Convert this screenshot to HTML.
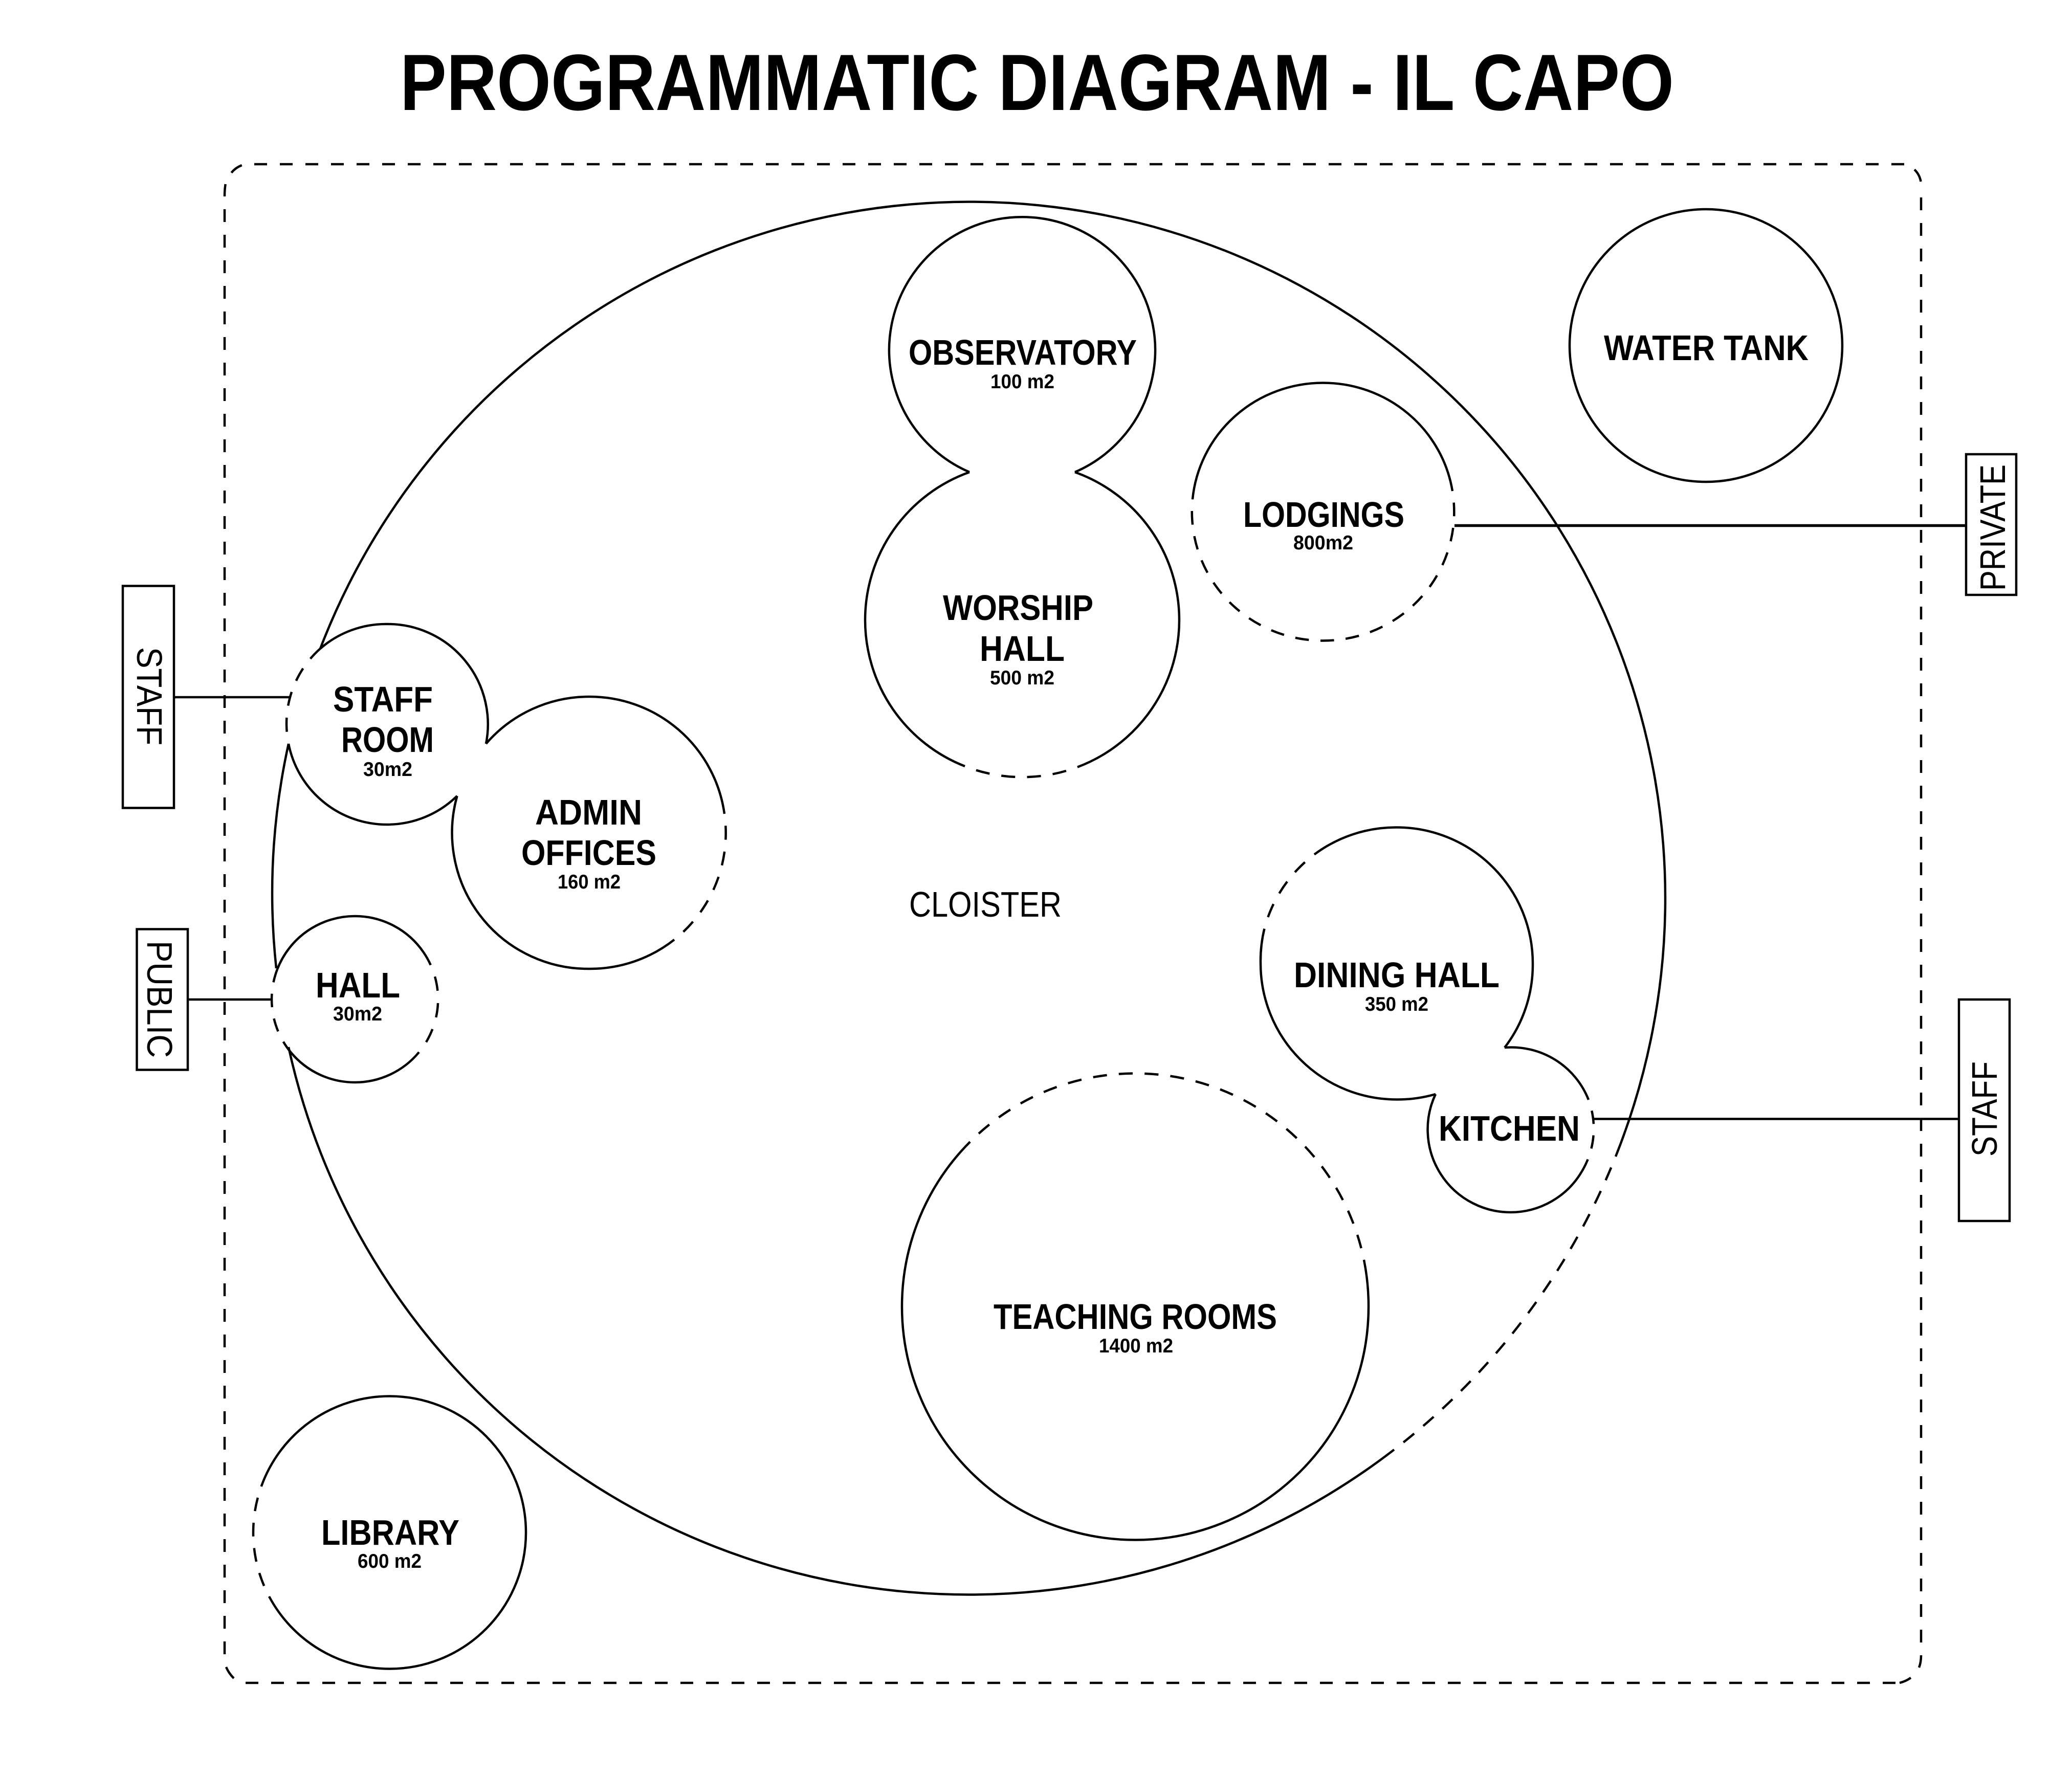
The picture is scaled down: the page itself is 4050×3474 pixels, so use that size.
<!DOCTYPE html>
<html>
<head>
<meta charset="utf-8">
<style>
html,body{margin:0;padding:0;background:#fff;}
svg{display:block;}
text{font-family:"Liberation Sans",sans-serif;fill:#000;}
.b{font-weight:700;font-size:70px;}
.s{font-weight:700;font-size:39px;}
.r{font-weight:400;font-size:70px;}
.t{font-weight:700;font-size:156px;}
.l{fill:none;stroke:#000;stroke-width:4.5;}
.d{fill:none;stroke:#000;stroke-width:4.5;stroke-dasharray:27 23;}
.o{fill:none;stroke:#000;stroke-width:4.5;stroke-dasharray:25 25;}
</style>
</head>
<body>
<svg xmlns="http://www.w3.org/2000/svg" width="4050" height="3474" viewBox="0 0 4050 3474">
<rect width="4050" height="3474" fill="#fff"/>

<text class="t" x="782" y="215" textLength="2490" lengthAdjust="spacingAndGlyphs">PROGRAMMATIC DIAGRAM - IL CAPO</text>

<!-- outer dashed boundary -->
<path class="o" d="M497 321H3722"/>
<path class="o" d="M439 409V3234"/>
<path class="o" d="M3755 386V3211"/>
<path class="o" d="M480 3290H3705"/>
<path class="l" d="M472.7 323Q460 328 452.3 337.7"/>
<path class="l" d="M440.7 360Q439 370 439 384"/>
<path class="l" d="M3742 331.5Q3752 341 3754.5 355"/>
<path class="l" d="M3755 3236Q3755 3250 3751 3260"/>
<path class="l" d="M3735 3280Q3725 3287 3713 3290"/>
<path class="l" d="M442 3259Q447 3271 457 3281"/>

<!-- main cloister circle -->
<path class="l" d="M626 1268A1361.5 1361.5 0 0 1 1893.5 394.5A1361.5 1361.5 0 0 1 3255 1756A1361.5 1361.5 0 0 1 3158 2261"/>
<path class="d" pathLength="723" stroke-dashoffset="27" d="M3158 2261A1361.5 1361.5 0 0 1 2725 2834"/>
<path class="l" d="M2725 2834A1361.5 1361.5 0 0 1 1893.5 3117.500A1361.5 1361.5 0 0 1 564 2047"/>
<path class="l" d="M540 1893A1361.5 1361.5 0 0 1 564 1454"/>

<!-- staff room -->
<path class="l" d="M626 1268A196 196 0 0 1 757 1220A196 196 0 0 1 950 1454"/>
<path class="l" d="M893.5 1556A196 196 0 0 1 757 1612A196 196 0 0 1 564 1454"/>
<path class="d" pathLength="200" stroke-dashoffset="27" d="M564 1454A196 196 0 0 1 626 1268"/>

<!-- admin offices -->
<path class="l" d="M950 1454A266 266 0 0 1 1151 1362A266 266 0 0 1 1416 1591"/>
<path class="d" pathLength="273" stroke-dashoffset="27" d="M1416 1591A266 266 0 0 1 1318 1837"/>
<path class="l" d="M1318 1837A266 266 0 0 1 1151 1894A266 266 0 0 1 893.5 1556"/>

<!-- hall -->
<path class="l" d="M542 1895A162.5 162.5 0 0 1 693.500 1791A162.5 162.5 0 0 1 828 1862"/>
<path class="d" pathLength="200" d="M828 1862A162.5 162.5 0 0 1 819 2057"/>
<path class="l" d="M819 2057A162.5 162.5 0 0 1 693.500 2116A162.5 162.5 0 0 1 569 2058"/>
<path class="d" pathLength="177" d="M569 2058A162.5 162.5 0 0 1 542 1895"/>

<!-- observatory + worship -->
<path class="l" d="M1895 923A260 260 0 1 1 2101 923"/>
<path class="l" d="M2101 923A307 307 0 0 1 2305 1212A307 307 0 0 1 2131 1489"/>
<path class="d" pathLength="250" d="M2131 1489A307 307 0 0 1 1886 1498"/>
<path class="l" d="M1886 1498A307 307 0 0 1 1691 1212A307 307 0 0 1 1895 923"/>

<!-- lodgings -->
<path class="l" d="M2331 976A256 252 0 0 1 2586.5 748.500A256 252 0 0 1 2839 960"/>
<path class="d" pathLength="873" stroke-dashoffset="27" d="M2839 960A256 252 0 0 1 2586.5 1252.500A256 252 0 0 1 2331 976"/>

<!-- dining + kitchen -->
<path class="l" d="M2569 1670.5A266 266 0 0 1 2730 1617.500A266 266 0 0 1 2996 1883.500A266 266 0 0 1 2941 2048"/>
<path class="l" d="M2941 2048A162 162 0 0 1 3105 2150"/>
<path class="d" pathLength="150" stroke-dashoffset="27" d="M3105 2150A162 162 0 0 1 3092 2290"/>
<path class="l" d="M3092 2290A162 162 0 0 1 2952 2370A162 162 0 0 1 2806 2139"/>
<path class="l" d="M2806 2139A266 266 0 0 1 2730 2149.500A266 266 0 0 1 2464 1883.500A266 266 0 0 1 2471.4 1815.6"/>
<path class="d" pathLength="173" stroke-dashoffset="27" d="M2471.4 1815.6A266 266 0 0 1 2569 1670.5"/>

<!-- teaching rooms -->
<path class="d" pathLength="1000" d="M1877.5 2252A456 456 0 0 1 2219 2098.500A456 456 0 0 1 2666 2463"/>
<path class="l" d="M2666 2463A456 456 0 0 1 2675 2554.500A456 456 0 0 1 2219 3010.500A456 456 0 0 1 1763 2554.500A456 456 0 0 1 1877.5 2252"/>

<!-- library -->
<path class="l" d="M510.7 2906A266.5 266.5 0 0 1 761.5 2729.500A266.5 266.5 0 0 1 1028 2996A266.5 266.5 0 0 1 761.5 3262.500A266.5 266.5 0 0 1 526 3121"/>
<path class="d" pathLength="223" stroke-dashoffset="27" d="M526 3121A266.5 266.5 0 0 1 510.7 2906"/>

<!-- water tank -->
<circle class="l" cx="3334.5" cy="675.5" r="266.5"/>

<!-- side boxes and connectors -->
<rect class="l" x="240" y="1145.5" width="100" height="434"/>
<rect class="l" x="267.500" y="1816.500" width="99.500" height="275"/>
<rect class="l" x="3843" y="888" width="98" height="275"/>
<rect class="l" x="3829" y="1954" width="99" height="433"/>
<path class="l" d="M341 1363H566"/>
<path class="l" d="M368 1954H533"/>
<path class="l" d="M2843 1027.500H3841" style="stroke-width:5.500"/>
<path class="l" d="M3114 2187.500H3827"/>

<text class="r" transform="translate(268 1265) rotate(90)" textLength="192" lengthAdjust="spacingAndGlyphs">STAFF</text>
<text class="r" transform="translate(288 1839) rotate(90)" textLength="229" lengthAdjust="spacingAndGlyphs">PUBLIC</text>
<text class="r" transform="translate(3919 1155) rotate(-90)" textLength="247" lengthAdjust="spacingAndGlyphs">PRIVATE</text>
<text class="r" transform="translate(3903 2261) rotate(-90)" textLength="186" lengthAdjust="spacingAndGlyphs">STAFF</text>

<text class="r" x="1777" y="1792" textLength="298" lengthAdjust="spacingAndGlyphs">CLOISTER</text>

<!-- room labels -->
<text class="b" x="1776" y="713" textLength="446" lengthAdjust="spacingAndGlyphs">OBSERVATORY</text>
<text class="s" x="1936" y="759" textLength="125" lengthAdjust="spacingAndGlyphs">100 m2</text>
<text class="b" x="1843" y="1212" textLength="294" lengthAdjust="spacingAndGlyphs">WORSHIP</text>
<text class="b" x="1915" y="1292" textLength="166" lengthAdjust="spacingAndGlyphs">HALL</text>
<text class="s" x="1935" y="1338" textLength="126" lengthAdjust="spacingAndGlyphs">500 m2</text>
<text class="b" x="2430" y="1030" textLength="315" lengthAdjust="spacingAndGlyphs">LODGINGS</text>
<text class="s" x="2528" y="1074" textLength="117" lengthAdjust="spacingAndGlyphs">800m2</text>
<text class="b" x="651" y="1391" textLength="195" lengthAdjust="spacingAndGlyphs">STAFF</text>
<text class="b" x="667" y="1470" textLength="181" lengthAdjust="spacingAndGlyphs">ROOM</text>
<text class="s" x="710" y="1517" textLength="96" lengthAdjust="spacingAndGlyphs">30m2</text>
<text class="b" x="1046" y="1612" textLength="209" lengthAdjust="spacingAndGlyphs">ADMIN</text>
<text class="b" x="1019" y="1691" textLength="264" lengthAdjust="spacingAndGlyphs">OFFICES</text>
<text class="s" x="1090" y="1737" textLength="123" lengthAdjust="spacingAndGlyphs">160 m2</text>
<text class="b" x="617" y="1950" textLength="165" lengthAdjust="spacingAndGlyphs">HALL</text>
<text class="s" x="651" y="1995" textLength="96" lengthAdjust="spacingAndGlyphs">30m2</text>
<text class="b" x="2529" y="1930" textLength="402" lengthAdjust="spacingAndGlyphs">DINING HALL</text>
<text class="s" x="2668" y="1976" textLength="124" lengthAdjust="spacingAndGlyphs">350 m2</text>
<text class="b" x="2812" y="2230" textLength="276" lengthAdjust="spacingAndGlyphs">KITCHEN</text>
<text class="b" x="1942" y="2598" textLength="554" lengthAdjust="spacingAndGlyphs">TEACHING ROOMS</text>
<text class="s" x="2148" y="2644" textLength="145" lengthAdjust="spacingAndGlyphs">1400 m2</text>
<text class="b" x="3135" y="704" textLength="400" lengthAdjust="spacingAndGlyphs">WATER TANK</text>
<text class="b" x="628" y="3020" textLength="270" lengthAdjust="spacingAndGlyphs">LIBRARY</text>
<text class="s" x="699" y="3065" textLength="125" lengthAdjust="spacingAndGlyphs">600 m2</text>
</svg>
</body>
</html>
